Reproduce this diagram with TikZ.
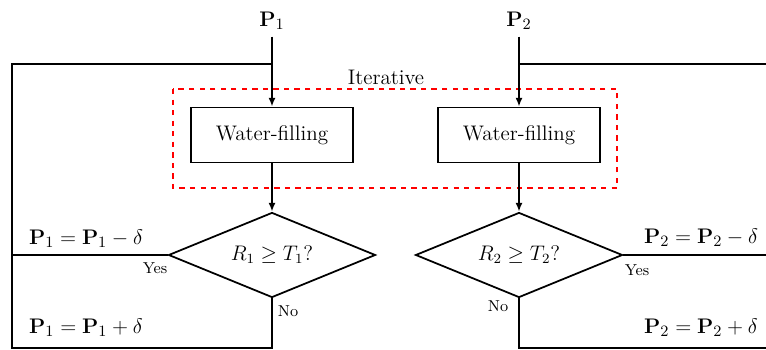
\documentclass[tikz,border=0pt]{standalone}
\usepackage{amsmath, amssymb}
\usetikzlibrary{shapes.geometric, arrows.meta}
\begin{document}
\begin{tikzpicture}[x=0.02cm, y=-0.02cm, line width=1pt,
  every node/.style={font=\large},
  wfbox/.style={draw, rectangle, minimum width=3.24cm, minimum height=1.1cm, inner sep=2pt},
  decision/.style={draw, diamond, shape aspect=2.4, minimum width=4.14cm, minimum height=1.7cm, inner sep=1pt},
  flow/.style={-{Latex[length=5pt, width=4pt]}},
  update/.style={font=\fontsize{13}{15}\selectfont},
  answer/.style={font=\small, inner sep=1pt}]
  \useasboundingbox (0,0) rectangle (766,350);
  % inputs and blocks
  \node[update] (p1) at (272,21) {$\mathbf{P}_1$};
  \node[update] (p2) at (519,21) {$\mathbf{P}_2$};
  \node[wfbox] (wf1) at (272,135) {Water-filling};
  \node[wfbox] (wf2) at (519,135) {Water-filling};
  \node[decision] (dec1) at (272,255) {$R_1 \geq T_1?$};
  \node[decision] (dec2) at (519,255) {$R_2 \geq T_2?$};
  \draw[red, dashed, line width=0.8pt] (173,89) rectangle (617,188);
  \node (iter) at (386,77) {Iterative};
  \draw[flow] (p1) -- (wf1);
  \draw[flow] (wf1) -- (dec1);
  \draw[flow] (p2) -- (wf2);
  \draw[flow] (wf2) -- (dec2);
  % feedback loops
  \coordinate (t1) at (272,64);
  \coordinate (t2) at (519,64);
  \coordinate (l1) at (12,255);
  \coordinate (r2) at (766,255);
  \draw (dec1.west) -- (l1);
  \draw (dec1.south) |- (12,348) -- (12,64) -- (t1);
  \draw (dec2.east) -- (r2);
  \draw (dec2.south) |- (766,348);
  \draw (t2) -- (766,64);
  % labels
  \node[update] (dec1m) at (86,239) {$\mathbf{P}_1 = \mathbf{P}_1 - \delta$};
  \node[update] (dec1p) at (86,328) {$\mathbf{P}_1 = \mathbf{P}_1 + \delta$};
  \node[update] (dec2m) at (701,238) {$\mathbf{P}_2 = \mathbf{P}_2 - \delta$};
  \node[update] (dec2p) at (701,328) {$\mathbf{P}_2 = \mathbf{P}_2 + \delta$};
  \node[answer] (yes1) at (155,268) {Yes};
  \node[answer] (no1) at (288,311) {No};
  \node[answer] (yes2) at (637,270) {Yes};
  \node[answer] (no2) at (498,306) {No};
\end{tikzpicture}
\end{document}
